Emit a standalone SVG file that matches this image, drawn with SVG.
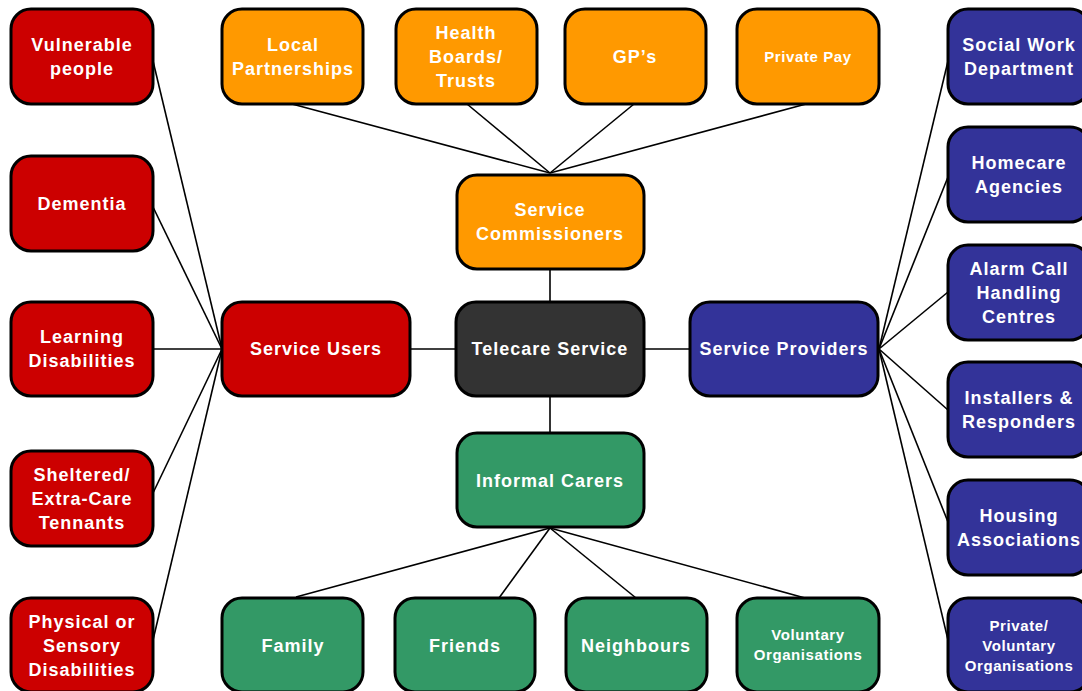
<svg xmlns="http://www.w3.org/2000/svg" width="1082" height="691" viewBox="0 0 1082 691">
<style>
g rect{stroke:#000;stroke-width:3}
.r rect{fill:#CC0000}
.o rect{fill:#FF9900}
.b rect{fill:#333399}
.g rect{fill:#339966}
.k rect{fill:#333333}
text{font-family:"Liberation Sans",Arial,sans-serif;font-weight:bold;font-size:18px;letter-spacing:1px;fill:#fff;text-anchor:middle}
text.s{font-size:15px;letter-spacing:0.6px}
#connectors line{stroke:#000;stroke-width:1.6}
</style>
<rect width="1082" height="691" fill="#fff"/>
<g id="connectors">
<line x1="292" y1="104" x2="550" y2="173"/>
<line x1="467" y1="104" x2="550" y2="173"/>
<line x1="634" y1="104" x2="550" y2="173"/>
<line x1="806" y1="104" x2="550" y2="173"/>
<line x1="550" y1="269" x2="550" y2="302"/>
<line x1="550" y1="396" x2="550" y2="433"/>
<line x1="410" y1="349" x2="456" y2="349"/>
<line x1="644" y1="349" x2="690" y2="349"/>
<line x1="153" y1="349" x2="222" y2="349"/>
<line x1="153" y1="61" x2="222" y2="349"/>
<line x1="153" y1="207" x2="222" y2="349"/>
<line x1="153" y1="493" x2="222" y2="349"/>
<line x1="153" y1="640" x2="222" y2="349"/>
<line x1="948" y1="61" x2="879" y2="349"/>
<line x1="948" y1="177" x2="879" y2="349"/>
<line x1="948" y1="292" x2="879" y2="349"/>
<line x1="948" y1="410" x2="879" y2="349"/>
<line x1="948" y1="522" x2="879" y2="349"/>
<line x1="948" y1="640" x2="879" y2="349"/>
<line x1="550" y1="528" x2="296" y2="597"/>
<line x1="550" y1="528" x2="499" y2="598"/>
<line x1="550" y1="528" x2="636" y2="598"/>
<line x1="550" y1="528" x2="805" y2="598"/>
</g>
<g id="vulnerable" class="r"><rect x="11" y="9" width="142" height="95" rx="20"/><text x="82" y="51">Vulnerable</text><text x="82" y="75">people</text></g>
<g id="dementia" class="r"><rect x="11" y="156" width="142" height="95" rx="20"/><text x="82" y="210">Dementia</text></g>
<g id="learning" class="r"><rect x="11" y="302" width="142" height="94" rx="20"/><text x="82" y="343">Learning</text><text x="82" y="367">Disabilities</text></g>
<g id="sheltered" class="r"><rect x="11" y="451" width="142" height="95" rx="20"/><text x="82" y="481">Sheltered/</text><text x="82" y="505">Extra-Care</text><text x="82" y="529">Tennants</text></g>
<g id="physical" class="r"><rect x="11" y="598" width="142" height="94" rx="20"/><text x="82" y="628">Physical or</text><text x="82" y="652">Sensory</text><text x="82" y="676">Disabilities</text></g>
<g id="local" class="o"><rect x="222" y="9" width="141" height="95" rx="20"/><text x="293" y="51">Local</text><text x="293" y="75">Partnerships</text></g>
<g id="health" class="o"><rect x="396" y="9" width="141" height="95" rx="20"/><text x="466" y="39">Health</text><text x="466" y="63">Boards/</text><text x="466" y="87">Trusts</text></g>
<g id="gps" class="o"><rect x="565" y="9" width="141" height="95" rx="20"/><text x="635" y="63">GP’s</text></g>
<g id="privatepay" class="o"><rect x="737" y="9" width="142" height="95" rx="20"/><text class="s" x="808" y="62">Private Pay</text></g>
<g id="commissioners" class="o"><rect x="457" y="175" width="187" height="94" rx="20"/><text x="550" y="216">Service</text><text x="550" y="240">Commissioners</text></g>
<g id="users" class="r"><rect x="222" y="302" width="188" height="94" rx="20"/><text x="316" y="355">Service Users</text></g>
<g id="telecare" class="k"><rect x="456" y="302" width="188" height="94" rx="20"/><text x="550" y="355">Telecare Service</text></g>
<g id="providers" class="b"><rect x="690" y="302" width="188" height="94" rx="20"/><text x="784" y="355">Service Providers</text></g>
<g id="carers" class="g"><rect x="457" y="433" width="187" height="94" rx="20"/><text x="550" y="487">Informal Carers</text></g>
<g id="family" class="g"><rect x="222" y="598" width="141" height="94" rx="20"/><text x="293" y="652">Family</text></g>
<g id="friends" class="g"><rect x="395" y="598" width="140" height="94" rx="20"/><text x="465" y="652">Friends</text></g>
<g id="neighbours" class="g"><rect x="566" y="598" width="141" height="94" rx="20"/><text x="636" y="652">Neighbours</text></g>
<g id="voluntary" class="g"><rect x="737" y="598" width="142" height="94" rx="20"/><text class="s" x="808" y="640">Voluntary</text><text class="s" x="808" y="660">Organisations</text></g>
<g id="socialwork" class="b"><rect x="948" y="9" width="142" height="95" rx="20"/><text x="1019" y="51">Social Work</text><text x="1019" y="75">Department</text></g>
<g id="homecare" class="b"><rect x="948" y="127" width="142" height="95" rx="20"/><text x="1019" y="169">Homecare</text><text x="1019" y="193">Agencies</text></g>
<g id="alarm" class="b"><rect x="948" y="245" width="142" height="95" rx="20"/><text x="1019" y="275">Alarm Call</text><text x="1019" y="299">Handling</text><text x="1019" y="323">Centres</text></g>
<g id="installers" class="b"><rect x="948" y="362" width="142" height="95" rx="20"/><text x="1019" y="404">Installers &amp;</text><text x="1019" y="428">Responders</text></g>
<g id="housing" class="b"><rect x="948" y="480" width="142" height="95" rx="20"/><text x="1019" y="522">Housing</text><text x="1019" y="546">Associations</text></g>
<g id="privatevol" class="b"><rect x="948" y="598" width="142" height="94" rx="20"/><text class="s" x="1019" y="631">Private/</text><text class="s" x="1019" y="651">Voluntary</text><text class="s" x="1019" y="671">Organisations</text></g>
</svg>
